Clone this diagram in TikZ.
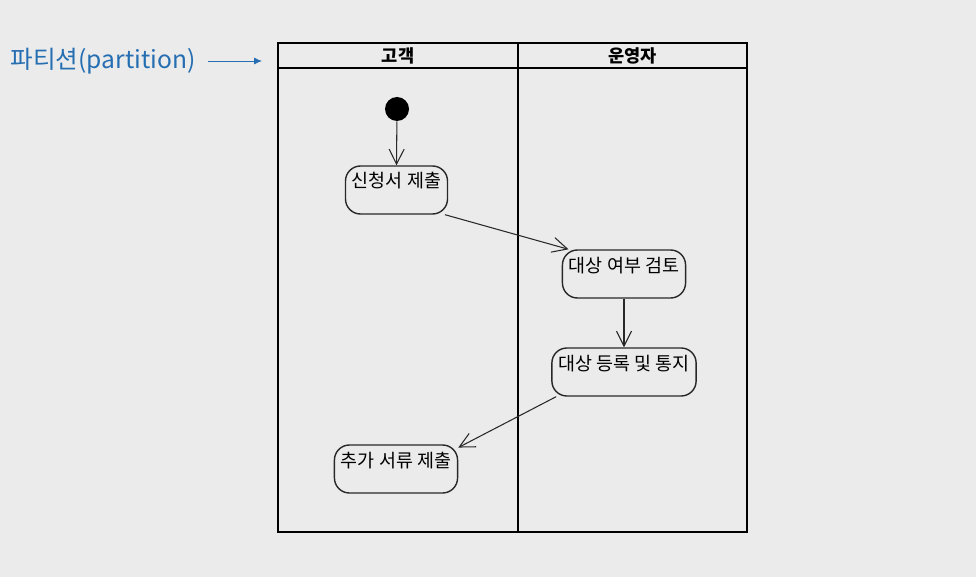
\documentclass[tikz,border=0pt]{standalone}
\usepackage{fontspec}
\setmainfont{Noto Sans CJK KR}
\usetikzlibrary{arrows.meta,positioning,calc}
\usepackage{xcolor}
\definecolor{pagegray}{RGB}{235,235,235}
\definecolor{lineink}{RGB}{40,40,40}
\definecolor{noteblue}{RGB}{38,110,178}
\tikzset{
  lane/.style      = {draw=black,line width=1.5pt},
  lanehead/.style  = {font=\fontsize{10}{12}\selectfont\bfseries,inner sep=0pt},
  act/.style       = {draw=lineink,line width=0.8pt,rounded corners=0.3cm,
                      font=\fontsize{10.5}{12}\selectfont,inner xsep=0.13cm,
                      inner ysep=0.1cm,text height=0.34cm,text depth=0.42cm},
  startdot/.style  = {circle,fill=black,minimum size=0.48cm,inner sep=0pt},
  flow/.style      = {-{Straight Barb[length=3mm,width=3mm]},line width=0.6pt,
                      color=lineink},
  note/.style      = {font=\fontsize{14}{16}\selectfont,color=noteblue,inner sep=0pt},
  notearrow/.style = {-{Latex[length=1.6mm,width=1.4mm]},line width=0.5pt,
                      color=noteblue},
}

\begin{document}
\begin{tikzpicture}
  \fill[pagegray] (0,0) rectangle (19.52,11.54);
  \useasboundingbox (0,0) rectangle (19.52,11.54);

  % swimlanes
  \draw[lane] (5.56,0.90) rectangle (14.94,10.68);
  \draw[lane] (5.56,10.18) -- (14.94,10.18);
  \draw[lane] (10.36,0.90) -- (10.36,10.68);
  \node[lanehead] (cust) at (7.96,10.43) {고객};
  \node[lanehead] (oper) at (12.65,10.43) {운영자};

  % activities
  \node[startdot] (start) at (7.94,9.36) {};
  \node[act] (apply)  at (7.93,7.74)  {신청서 제출};
  \node[act] (review) at (12.48,6.06) {대상 여부 검토};
  \node[act] (notify) at (12.48,4.10) {대상 등록 및 통지};
  \node[act] (extra)  at (7.92,2.16)  {추가 서류 제출};

  \draw[flow] (start) -- (apply.north);
  \draw[flow] (apply.-27) -- (review.156);
  \draw[flow] (review) -- (notify);
  \draw[flow] (notify.-160) -- (extra.19);

  % partition note
  \node[note] (part) at (2.06,10.32) {파티션(partition)};
  \coordinate (lanetip) at (5.24,10.32);
  \draw[notearrow] ($(part.east)+(0.24,0)$) -- (part.east -| lanetip);
\end{tikzpicture}
\end{document}
